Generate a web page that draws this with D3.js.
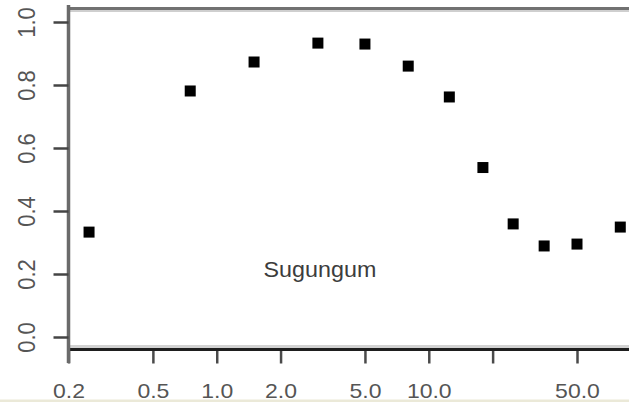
<!DOCTYPE html>
<html>
<head>
<meta charset="utf-8">
<script src="https://cdn.jsdelivr.net/npm/d3@7"></script>
<style>
html,body{margin:0;padding:0;background:#fff;overflow:hidden;}
svg{display:block;}
text{font-family:"Liberation Sans",Arial,Helvetica,sans-serif;}
</style>
</head>
<body>
<svg id="chart" width="629" height="402"></svg>
<script>
// ---- data ----
const xValues = [0.25, 0.75, 1.5, 3, 5, 8, 12.5, 18, 25, 35, 50, 80];
const yValues = [0.333, 0.781, 0.873, 0.933, 0.930, 0.860, 0.762, 0.538, 0.359, 0.289, 0.295, 0.349];
const xTicks = [0.2, 0.5, 1, 2, 5, 10, 20, 50];
const xTickLabels = ["0.2", "0.5", "1.0", "2.0", "5.0", "10.0", "", "50.0"];
const yTicks = [0, 0.2, 0.4, 0.6, 0.8, 1.0];
const yTickLabels = ["0.0", "0.2", "0.4", "0.6", "0.8", "1.0"];
const annotation = "Sugungum";

const svg = d3.select("#chart");
const W = 629, H = 402;

const x = d3.scaleLog().domain([0.2, 50]).range([68.5, 577]);
const y = d3.scaleLinear().domain([0, 1]).range([337, 22]);

const boxLeft = 68.5, boxTop = 8.5, boxBottom = 349.5;

// box (top and lighter bottom)
svg.append("line").attr("x1", boxLeft).attr("x2", W).attr("y1", boxTop).attr("y2", boxTop)
  .attr("stroke", "#717171").attr("stroke-width", 3);
svg.append("line").attr("x1", boxLeft).attr("x2", W).attr("y1", boxTop + 2.5).attr("y2", boxTop + 2.5)
  .attr("stroke", "#cfcfcf").attr("stroke-width", 2);
svg.append("line").attr("x1", boxLeft).attr("x2", W).attr("y1", boxBottom - 3).attr("y2", boxBottom - 3)
  .attr("stroke", "#d2d2d2").attr("stroke-width", 3);

// x axis
const xAxis = d3.axisBottom(x).tickValues(xTicks)
  .tickFormat((d, i) => xTickLabels[i]).tickSize(14);
const gx = svg.append("g").attr("transform", `translate(0,${boxBottom})`).call(xAxis);
gx.select(".domain").remove();
gx.append("line").attr("x1", boxLeft).attr("x2", W).attr("y1", 0).attr("y2", 0)
  .attr("stroke", "#1e1e1e").attr("stroke-width", 3);
gx.selectAll(".tick line").attr("stroke", "#4a4a4a").attr("stroke-width", 2.5);
gx.selectAll(".tick text")
  .attr("fill", "#555").attr("font-size", 20)
  .attr("dy", null).attr("y", 0)
  .attr("transform", "translate(0,48) scale(1.15,1)");

// y axis line
svg.append("line").attr("x1", boxLeft).attr("x2", boxLeft).attr("y1", 5).attr("y2", 363)
  .attr("stroke", "#6a6a6a").attr("stroke-width", 3.5);

const yAxis = d3.axisLeft(y).tickValues(yTicks)
  .tickFormat((d, i) => yTickLabels[i]).tickSize(15);
const gy = svg.append("g").attr("transform", `translate(${boxLeft},0)`).call(yAxis);
gy.select(".domain").remove();
gy.selectAll(".tick line").attr("stroke", "#444").attr("stroke-width", 2.5);
gy.selectAll(".tick text")
  .attr("fill", "#555").attr("font-size", 22)
  .attr("x", null).attr("dy", null)
  .attr("text-anchor", "middle")
  .attr("transform", "translate(-34,0) scale(1.06,1) rotate(-90)");

// points
svg.append("g").selectAll("rect")
  .data(xValues.map((v, i) => ({x: v, y: yValues[i]})))
  .join("rect")
  .attr("x", d => x(d.x) - 5.5)
  .attr("y", d => y(d.y) - 5.5)
  .attr("width", 11).attr("height", 11)
  .attr("fill", "#000");

// annotation
svg.append("text")
  .attr("x", 0).attr("y", 0)
  .attr("transform", `translate(${x(5) - 45},277) scale(1.06,1)`)
  .attr("text-anchor", "middle")
  .attr("font-size", 22).attr("fill", "#3c3c3c")
  .text(annotation);

// bottom strip
svg.append("rect").attr("x", 0).attr("y", 399.5).attr("width", W).attr("height", 3)
  .attr("fill", "#ebe9d8");
</script>
</body>
</html>
